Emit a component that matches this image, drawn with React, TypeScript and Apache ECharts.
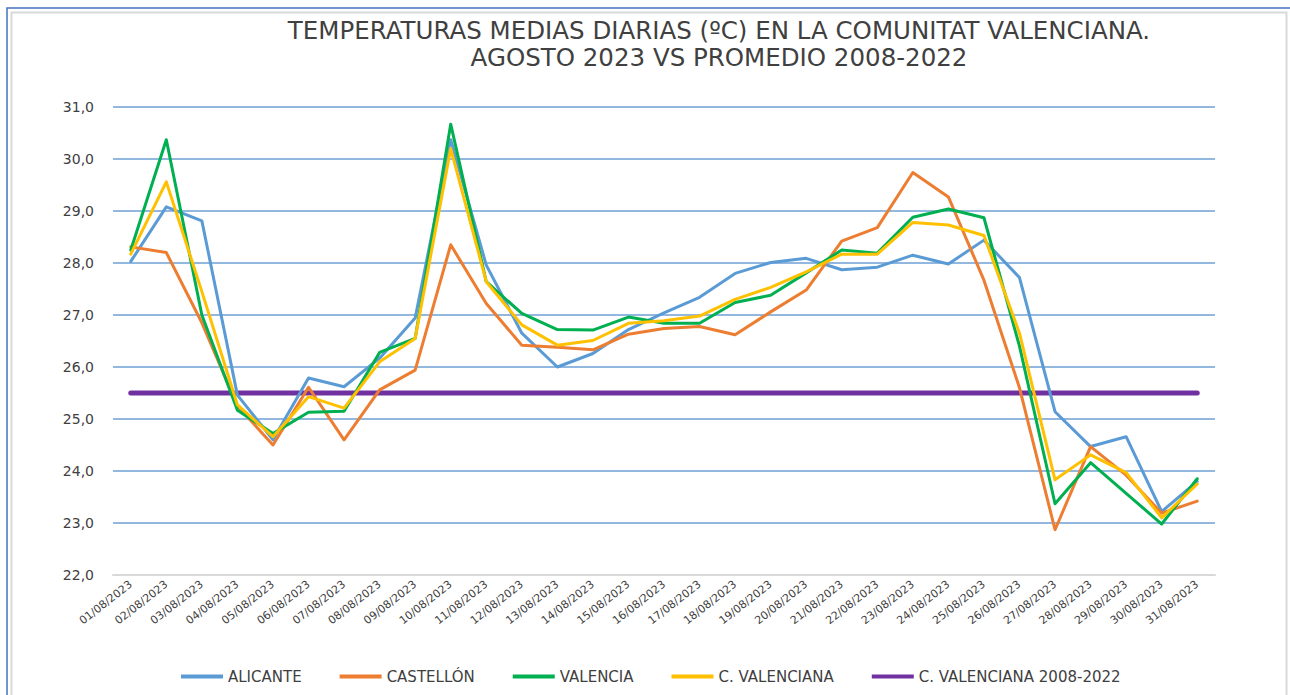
import React, { useEffect, useRef } from "react";
import * as echarts from "echarts";

const dates = [
  "01/08/2023", "02/08/2023", "03/08/2023", "04/08/2023", "05/08/2023", "06/08/2023",
  "07/08/2023", "08/08/2023", "09/08/2023", "10/08/2023", "11/08/2023", "12/08/2023",
  "13/08/2023", "14/08/2023", "15/08/2023", "16/08/2023", "17/08/2023", "18/08/2023",
  "19/08/2023", "20/08/2023", "21/08/2023", "22/08/2023", "23/08/2023", "24/08/2023",
  "25/08/2023", "26/08/2023", "27/08/2023", "28/08/2023", "29/08/2023", "30/08/2023",
  "31/08/2023",
];

const alicante = [
  28.03, 29.08, 28.81, 25.46, 24.6, 25.79, 25.62, 26.17, 26.94, 30.37, 27.96, 26.65,
  26.0, 26.26, 26.72, 27.04, 27.34, 27.8, 28.01, 28.09, 27.87, 27.92, 28.15, 27.98,
  28.44, 27.72, 25.14, 24.47, 24.66, 23.22, 23.8,
];

const castellon = [
  28.31, 28.2, 26.85, 25.25, 24.5, 25.61, 24.6, 25.56, 25.94, 28.35, 27.22, 26.42,
  26.38, 26.33, 26.63, 26.74, 26.78, 26.62, 27.06, 27.48, 28.42, 28.68, 29.74, 29.27,
  27.67, 25.6, 22.87, 24.47, 23.92, 23.19, 23.42,
];

const valencia = [
  28.25, 30.37, 27.0, 25.17, 24.72, 25.13, 25.15, 26.28, 26.55, 30.67, 27.64, 27.03,
  26.72, 26.71, 26.96, 26.84, 26.84, 27.24, 27.38, 27.81, 28.25, 28.19, 28.88, 29.04,
  28.87, 26.4, 23.37, 24.16, 23.57, 22.98, 23.85,
];

const cValenciana = [
  28.17, 29.56, 27.45, 25.27, 24.66, 25.43, 25.21, 26.1, 26.55, 30.2, 27.64, 26.81,
  26.42, 26.51, 26.84, 26.89, 26.98, 27.3, 27.53, 27.83, 28.17, 28.17, 28.78, 28.73,
  28.53, 26.65, 23.83, 24.31, 23.97, 23.1, 23.75,
];

const promedio20082022 = 25.5;

const seriesNames = ["ALICANTE", "CASTELLÓN", "VALENCIA", "C. VALENCIANA", "C. VALENCIANA 2008-2022"];
const seriesColors = ["#5B9BD5", "#ED7D31", "#00B050", "#FFC000", "#7030A0"];

export default function App() {
  const ref = useRef<HTMLDivElement>(null);

  useEffect(() => {
    if (!ref.current) return;
    const chart = echarts.init(ref.current, null, { renderer: "svg" });
    const wideFont = "'DejaVu Sans', 'Open Sans', sans-serif";
    const values = [alicante, castellon, valencia, cValenciana, dates.map(() => promedio20082022)];

    chart.setOption({
      animation: false,
      backgroundColor: "#ffffff",
      textStyle: { fontFamily: wideFont },
      graphic: [
        {
          type: "rect",
          shape: { x: 11.5, y: 12.5, width: 1275, height: 700 },
          style: { fill: "none", stroke: "#D9D9D9", lineWidth: 2 },
          silent: true,
        },
        {
          type: "polyline",
          shape: { points: [[7, 720], [7, 8], [1290, 8]] },
          style: { fill: "none", stroke: "#4472C4", lineWidth: 1.5 },
          silent: true,
        },
      ],
      title: {
        text: "TEMPERATURAS MEDIAS DIARIAS (ºC) EN LA COMUNITAT VALENCIANA.\nAGOSTO 2023 VS PROMEDIO 2008-2022",
        left: 714,
        top: 12,
        textAlign: "center",
        textStyle: {
          fontFamily: wideFont,
          fontSize: 24.5,
          fontWeight: "normal",
          color: "#404040",
          lineHeight: 27,
        },
      },
      legend: {
        top: 664,
        left: 176,
        itemWidth: 42,
        itemHeight: 4,
        itemGap: 38,
        icon: "rect",
        data: seriesNames,
        textStyle: { fontSize: 15, color: "#404040", fontFamily: wideFont },
      },
      grid: { left: 113, right: 75, top: 107, bottom: 120, containLabel: false },
      xAxis: {
        type: "category",
        data: dates,
        boundaryGap: true,
        axisLine: { lineStyle: { color: "#D9D9D9", width: 2 } },
        axisTick: { show: false },
        axisLabel: { rotate: 38, fontSize: 11, color: "#404040", margin: 8, interval: 0, fontFamily: wideFont },
        z: 3,
      },
      yAxis: {
        type: "value",
        min: 22,
        max: 31,
        interval: 1,
        axisLine: { show: false },
        axisTick: { show: false },
        axisLabel: {
          fontSize: 14,
          color: "#404040",
          margin: 19,
          fontFamily: wideFont,
          formatter: (v: number) => v.toFixed(1).replace(".", ","),
        },
        splitLine: { lineStyle: { color: "#6FA0D5", width: 1.5 } },
      },
      series: seriesNames.map((name, i) => ({
        name,
        type: "line",
        data: values[i],
        symbol: "none",
        color: seriesColors[i],
        lineStyle: { width: i === 4 ? 5 : 3, color: seriesColors[i], cap: "round", join: "round" },
        z: i === 4 ? 1 : 2 + i,
      })),
    });

    return () => chart.dispose();
  }, []);

  return (
    <div
      ref={ref}
      style={{ position: "fixed", left: 0, top: 0, width: 1290, height: 695 }}
    />
  );
}
